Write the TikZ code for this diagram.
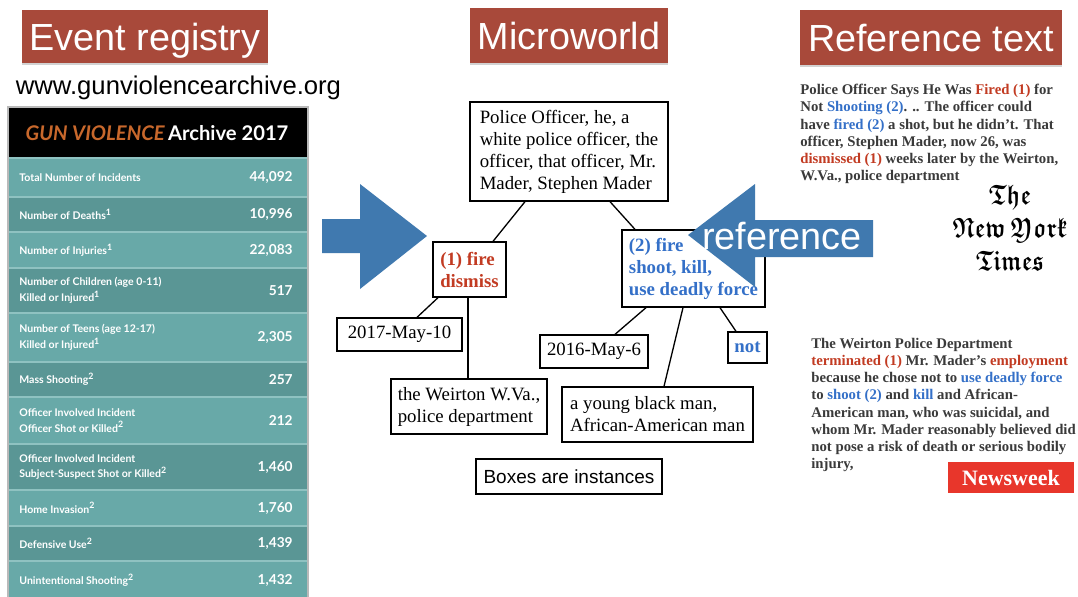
\documentclass[tikz,border=0pt]{standalone}
\usepackage{amsmath}
\usepackage{amssymb}
\usepackage{graphicx}
\usepackage{fontspec}
\setmainfont{Liberation Serif}
\setsansfont{Liberation Sans}
\newfontfamily\gvafont{Lato}
\usetikzlibrary{calc,shadows}
\definecolor{ttlred}{HTML}{A8493A}
\definecolor{arrblue}{HTML}{4079AF}
\definecolor{fred}{HTML}{C23B22}
\definecolor{fblue}{HTML}{3470C8}
\definecolor{txtgrey}{HTML}{3A3A3A}
\definecolor{tealA}{HTML}{68A9A8}
\definecolor{tealB}{HTML}{5A9695}
\definecolor{tealline}{HTML}{8FC2C1}
\definecolor{gvaorange}{HTML}{C8682C}
\definecolor{nwred}{HTML}{E8362B}
\tikzset{ttl/.style={fill=ttlred, text=white, font=\sffamily\fontsize{21.5}{24}\selectfont, text height=15.4pt, text depth=0pt, inner xsep=0pt, inner ysep=0pt, drop shadow={shadow xshift=0pt, shadow yshift=-1.2pt, opacity=0.35}}}
\tikzstyle{inst}=[draw, line width=0.75pt, fill=white, align=left, inner sep=0pt, font=\fontsize{10.7}{12.5}\selectfont]
\tikzstyle{gvarow}=[text=white, font=\gvafont\bfseries\fontsize{6}{9}\selectfont, align=left, inner sep=0pt]
\tikzstyle{gvaval}=[text=white, font=\gvafont\bfseries\fontsize{7.8}{9}\selectfont, inner sep=0pt]
\tikzstyle{news}=[text=txtgrey, align=left, inner sep=0pt, font=\bfseries\fontsize{8.4}{9.75}\selectfont]
\tikzstyle{lk}=[draw, line width=0.75pt]
\newcommand{\frk}[1]{\scalebox{0.8}[1]{$\boldsymbol{\mathfrak{#1}}$}}

\begin{document}
\begin{tikzpicture}[x=0.02cm, y=-0.02cm]
\useasboundingbox (0,0) rectangle (1078,596);
\fill[white] (0,0) rectangle (1078,596);

\node[ttl, minimum width=4.92cm, minimum height=1.06cm] (ev) at (145,36.5) {Event registry};
\node[ttl, minimum width=3.96cm, minimum height=1.1cm] (mw) at (569,35.5) {Microworld};
\node[ttl, minimum width=5.24cm, minimum height=1.1cm] (rt) at (931,37.5) {Reference text};
\node[font=\sffamily\fontsize{14.6}{16}\selectfont, anchor=base, inner sep=0pt] (url) at (178.5,94) {www.gunviolencearchive.org};

\fill[black] (8,108) rectangle (308,158);
\node[text=white, font=\gvafont\bfseries\fontsize{11.5}{12}\selectfont] (gva) at (157,133) {{\color{gvaorange}\itshape GUN VIOLENCE}\,Archive 2017};
\foreach \ta/\tb/\c/\lab/\val [count=\i] in {
158/197/tealA/{Total Number of Incidents}/{44,092},
197/232/tealB/{Number of Deaths\textsuperscript{1}}/{10,996},
232/268/tealA/{Number of Injuries\textsuperscript{1}}/{22,083},
268/313/tealB/{Number of Children (age 0-11)\\Killed or Injured\textsuperscript{1}}/{517},
313/362/tealA/{Number of Teens (age 12-17)\\Killed or Injured\textsuperscript{1}}/{2,305},
362/397/tealB/{Mass Shooting\textsuperscript{2}}/{257},
397/444/tealA/{Officer Involved Incident\\Officer Shot or Killed\textsuperscript{2}}/{212},
444/490/tealB/{Officer Involved Incident\\Subject-Suspect Shot or Killed\textsuperscript{2}}/{1,460},
490/526/tealA/{Home Invasion\textsuperscript{2}}/{1,760},
526/561/tealB/{Defensive Use\textsuperscript{2}}/{1,439},
561/600/tealA/{Unintentional Shooting\textsuperscript{2}}/{1,432}}{
\fill[\c] (8,\ta) rectangle (308,\tb);
\draw[tealline, line width=0.6pt] (8,\ta) -- (308,\ta);
\node[gvarow, anchor=west] (lab\i) at (19,{(\ta+\tb)/2}) {\lab};
\node[gvaval, anchor=east] (val\i) at (293,{(\ta+\tb)/2}) {\val};
}
\draw[gray!55, line width=0.6pt] (8,107) rectangle (308,600);

\fill[arrblue] (322,219) -- (360,219) -- (360,184) -- (427,236) -- (360,289) -- (360,253) -- (322,253) -- cycle;

\node[inst, minimum width=3.96cm, minimum height=1.98cm] (P) at (569,151.5) {Police Officer, he, a\\white police officer, the\\officer, that officer, Mr.\\Mader, Stephen Mader};
\node[inst, minimum width=1.46cm, minimum height=1.1cm, text=fred, font=\bfseries\fontsize{10.7}{12.5}\selectfont] (F1) at (469.5,269.5) {(1) fire\\dismiss};
\node[inst, minimum width=2.86cm, minimum height=1.54cm, text=fblue, font=\bfseries\fontsize{10.7}{12.5}\selectfont] (F2) at (693.5,268.5) {(2) fire\\shoot, kill,\\use deadly force};
\node[inst, minimum width=2.5cm, minimum height=0.66cm] (D1) at (399.5,334.5) {2017-May-10};
\node[inst, minimum width=3.12cm, minimum height=1.1cm] (L1) at (469,406.5) {the Weirton W.Va.,\\police department};
\node[inst, minimum width=2.16cm, minimum height=0.66cm] (D2) at (594,351.5) {2016-May-6};
\node[inst, minimum width=3.82cm, minimum height=1.1cm] (V2) at (657.5,414.5) {a young black man,\\African-American man};
\node[inst, minimum width=0.78cm, minimum height=0.62cm, text=fblue, font=\bfseries\fontsize{10.7}{12.5}\selectfont] (N2) at (747.5,347.5) {not};
\node[inst, minimum width=3.72cm, minimum height=0.7cm, font=\sffamily\fontsize{10.8}{12}\selectfont] (note) at (569,476.5) {Boxes are instances};

\path[lk] ($(P.south)+(-44,0)$) edge ($(F1.north)+(23.5,0)$)
	($(P.south)+(41,0)$) edge ($(F2.north)+(-58.5,0)$)
	($(F1.south)+(-31.5,0)$) edge ($(D1.north)+(17.5,0)$)
	($(F1.south)+(-1.5,0)$) edge ($(L1.north)+(-1,0)$)
	($(F2.south)+(-47.5,0)$) edge ($(D2.north)+(21,0)$)
	($(F2.south)+(-10.5,0)$) edge ($(V2.north)+(6.5,0)$)
	($(F2.south)+(26.5,0)$) edge ($(N2.north)+(-11.5,0)$)
;

\fill[arrblue] (873,220) -- (755,220) -- (755,184) -- (688,235) -- (755,287) -- (755,257) -- (873,257) -- cycle;
\node[text=white, font=\sffamily\fontsize{21.5}{24}\selectfont, anchor=base, inner sep=0pt] (refw) at (782,249) {reference};

\node[news, anchor=north west] (nyt) at (800,84) {Police Officer Says He Was \textcolor{fred}{Fired (1)} for\\Not \textcolor{fblue}{Shooting (2)}. .. The officer could\\have \textcolor{fblue}{fired (2)} a shot, but he didn’t. That\\officer, Stephen Mader, now 26, was\\\textcolor{fred}{dismissed (1)} weeks later by the Weirton,\\W.Va., police department};
\node[font=\fontsize{16}{18.7}\selectfont, align=center, inner sep=0pt] (nytlogo) at (1010,228) {\frk{The}\\\frk{New}\,\frk{York}\\\frk{Times}};

\node[news, anchor=north west] (nw) at (811,338) {The Weirton Police Department\\\textcolor{fred}{terminated (1)} Mr. Mader’s \textcolor{fred}{employment}\\because he chose not to \textcolor{fblue}{use deadly force}\\to \textcolor{fblue}{shoot (2)} and \textcolor{fblue}{kill} and African-\\American man, who was suicidal, and\\whom Mr. Mader reasonably believed did\\not pose a risk of death or serious bodily\\injury,};
\node[fill=nwred, text=white, font=\bfseries\fontsize{12.5}{14}\selectfont, minimum width=2.52cm, minimum height=0.62cm, inner sep=0pt] (nwlogo) at (1011,477.5) {Newsweek};
\end{tikzpicture}
\end{document}
